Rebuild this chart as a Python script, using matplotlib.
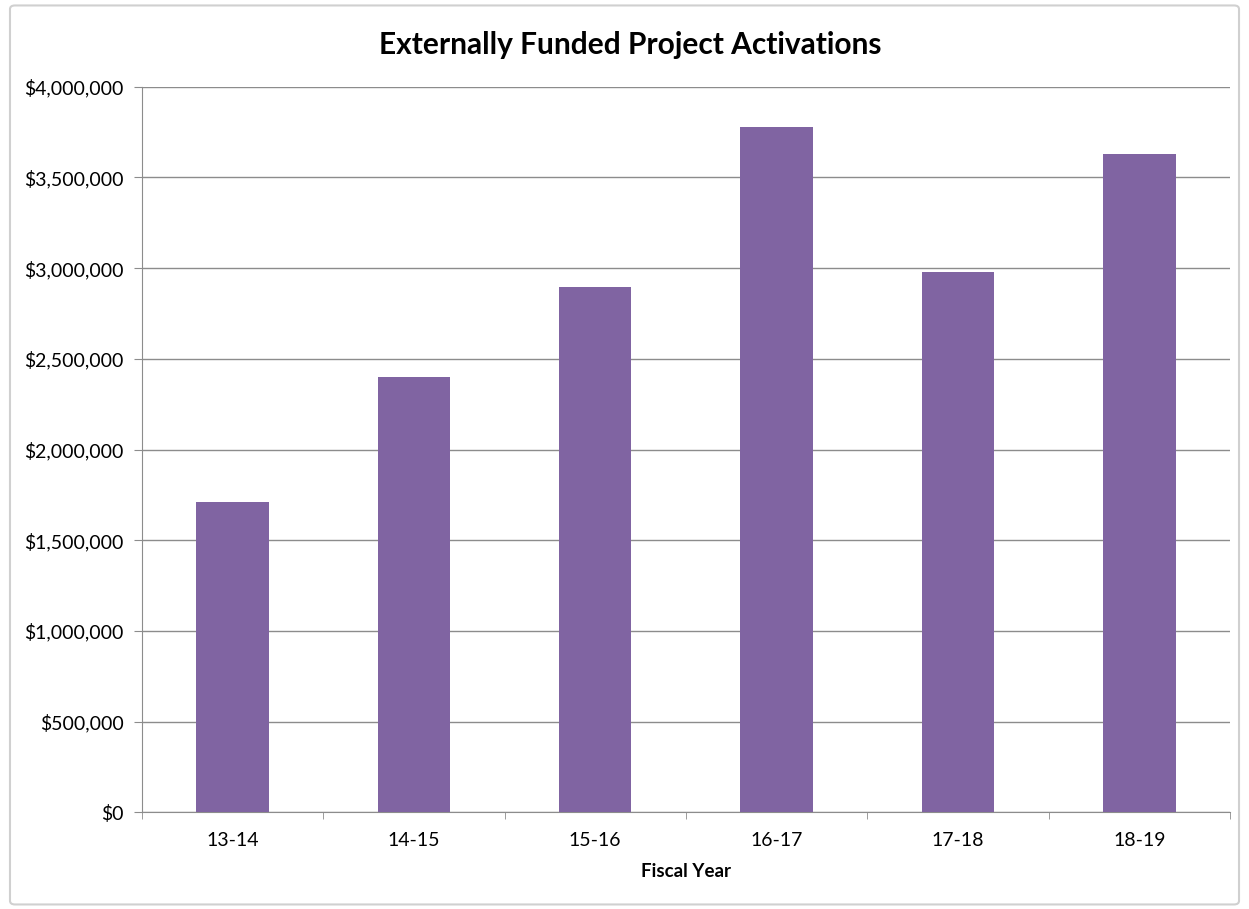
import matplotlib.pyplot as plt
from matplotlib.patches import FancyBboxPatch
from matplotlib.ticker import FuncFormatter, MultipleLocator

plt.rcParams['font.family'] = ['Lato', 'DejaVu Sans']

# Activations by fiscal year
years = ["13-14", "14-15", "15-16", "16-17", "17-18", "18-19"]
amounts = [1709000, 2400000, 2897000, 3776000, 2980000, 3627000]

fig = plt.figure(figsize=(12.49, 9.09), dpi=100)
ax = fig.add_axes([0.1135, 0.1064, 0.8713, 0.7982])

# chart border
fig.patches.append(FancyBboxPatch((0.008, 0.005), 0.984, 0.989,
                                  boxstyle="round,pad=0,rounding_size=0.004",
                                  transform=fig.transFigure, fill=False,
                                  edgecolor="#d0d0d0", linewidth=1.5))

x = range(len(years))
ax.bar(x, amounts, width=0.4, color="#8064A2", zorder=3)

ax.set_xlim(-0.5, len(years) - 0.5)
ax.set_ylim(0, 4000000)
ax.yaxis.set_major_locator(MultipleLocator(500000))
ax.yaxis.set_major_formatter(FuncFormatter(lambda v, p: "${:,.0f}".format(v)))
ax.grid(axis="y", color="#8c8c8c", linewidth=1, zorder=0)

ax.set_xticks(list(x))
ax.set_xticklabels(years)
ax.set_xticks([i - 0.5 for i in range(len(years) + 1)], minor=True)
ax.tick_params(axis="x", which="major", length=0, pad=14, labelsize=14)
ax.tick_params(axis="x", which="minor", length=5, color="#8c8c8c")
ax.tick_params(axis="y", length=6, color="#8c8c8c", labelsize=14, pad=7)

for side in ["top", "right"]:
    ax.spines[side].set_visible(False)
for side in ["left", "bottom"]:
    ax.spines[side].set_color("#8c8c8c")

ax.set_xlabel("Fiscal Year", fontsize=13.5, fontweight="bold", labelpad=10)
fig.text(0.505, 0.951, "Externally Funded Project Activations",
         ha="center", va="center", fontsize=21.5, fontweight="bold")

fig.savefig("out.png", dpi=100)
